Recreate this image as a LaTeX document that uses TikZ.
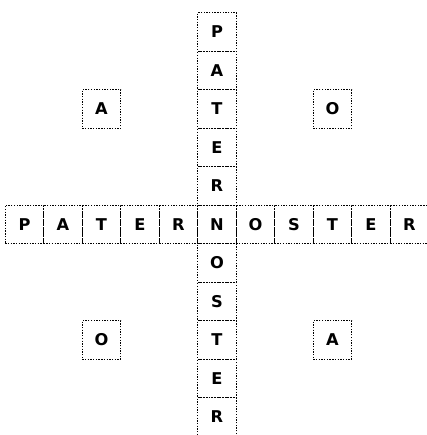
\documentclass[tikz,border=0pt]{standalone}
\usepackage{tikz}
\usepackage{fontspec}
\setsansfont{DejaVu Sans}

\tikzset{
  casilla/.style={draw, densely dotted, line width=1pt, minimum size=1cm,
    inner sep=0pt, font=\sffamily\bfseries\fontsize{12}{14}\selectfont}
}

\begin{document}
\begin{tikzpicture}
  % marco de la figura
  \clip (-5.636,-5.468) rectangle (5.455,5.831);
  \fill[white] (-5.636,-5.468) rectangle (5.455,5.831);
  % fila horizontal
  \foreach \l [count=\i] in {P,A,T,E,R,N,O,S,T,E,R}
    \node[casilla] (h\i) at (\i-6,0) {\l};
  % columna vertical (la N ya esta)
  \foreach \l [count=\i] in {P,A,T,E,R,N,O,S,T,E,R}{
    \ifnum\i=6\relax\else
      \node[casilla] (v\i) at (0,6-\i) {\l};
    \fi}
  % letras sueltas en las esquinas
  \node[casilla] (a1) at (-3,3) {A};
  \node[casilla] (o1) at (3,3) {O};
  \node[casilla] (o2) at (-3,-3) {O};
  \node[casilla] (a2) at (3,-3) {A};
\end{tikzpicture}
\end{document}
